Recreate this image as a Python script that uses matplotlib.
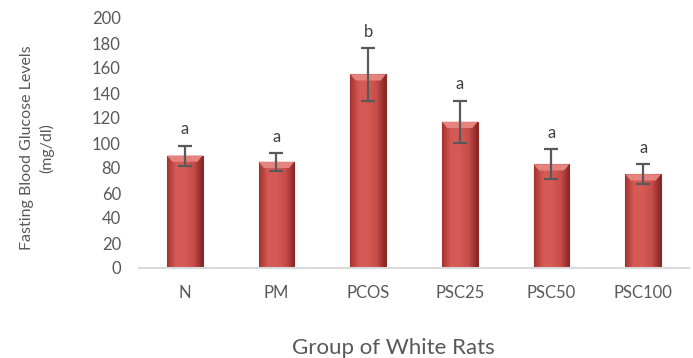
import numpy as np
import matplotlib.pyplot as plt
from matplotlib.colors import LinearSegmentedColormap

# ── data ─────────────────────────────────────────────
groups = ["N", "PM", "PCOS", "PSC25", "PSC50", "PSC100"]
glucose = [90, 85, 155, 117, 83, 75]
sd = [8, 7, 21, 17, 12, 8]
letters = ["a", "a", "b", "a", "a", "a"]

plt.rcParams["font.family"] = ["Lato", "DejaVu Sans"]

fig = plt.figure(figsize=(6.93, 3.58), dpi=100)
ax = fig.add_axes([139 / 693, 1 - 268 / 358, 550 / 693, 250 / 358])

x = np.arange(len(groups))
bars = ax.bar(x, glucose, width=0.39, color="#C9504D", edgecolor="#8E2B29",
              linewidth=0.8, zorder=2)

# horizontal shading inside each bar to mimic the bevelled look
cmap = LinearSegmentedColormap.from_list(
    "bev", ["#A5322F", "#D65B57", "#D55A56", "#C64D4A", "#862523"])
grad = np.linspace(0, 1, 64).reshape(1, -1)
for b in bars:
    x0, w, h = b.get_x(), b.get_width(), b.get_height()
    im = ax.imshow(grad, cmap=cmap, aspect="auto", extent=(x0, x0 + w, 0, h),
                   zorder=2.5)
    im.set_clip_path(b)
    # lighter top bevel
    ax.fill([x0, x0 + w, x0 + w * 0.85, x0 + w * 0.15],
            [h, h, h - 5, h - 5], color="#E5837F", zorder=2.6, lw=0)

ax.errorbar(x, glucose, yerr=sd, fmt="none", ecolor="#595959", elinewidth=1.6,
            capsize=5, capthick=1.6, zorder=3)

for xi, v, s, t in zip(x, glucose, sd, letters):
    ax.text(xi, v + s + 13, t, ha="center", va="center", fontsize=12,
            color="#404040")

ax.set_xlim(-0.5, len(groups) - 0.5)
ax.set_ylim(0, 200)
ax.set_yticks(range(0, 201, 20))
ax.set_xticks(x)
ax.set_xticklabels(groups)
ax.tick_params(axis="both", length=0, labelsize=12, colors="#595959")
ax.tick_params(axis="x", pad=12)
ax.tick_params(axis="y", pad=13)
for s in ["top", "right", "left"]:
    ax.spines[s].set_visible(False)
ax.spines["bottom"].set_color("#D9D9D9")
ax.spines["bottom"].set_linewidth(1.5)

fig.text(393 / 693, 1 - 348 / 358, "Group of White Rats", ha="center",
         va="center", fontsize=16, color="#595959")
fig.text(37 / 693, 1 - 148 / 358, "Fasting Blood Glucose Levels\n(mg/dl)",
         ha="center", va="center", rotation=90, fontsize=11.5,
         color="#595959", linespacing=1.4)

plt.savefig("out.png", dpi=100)
